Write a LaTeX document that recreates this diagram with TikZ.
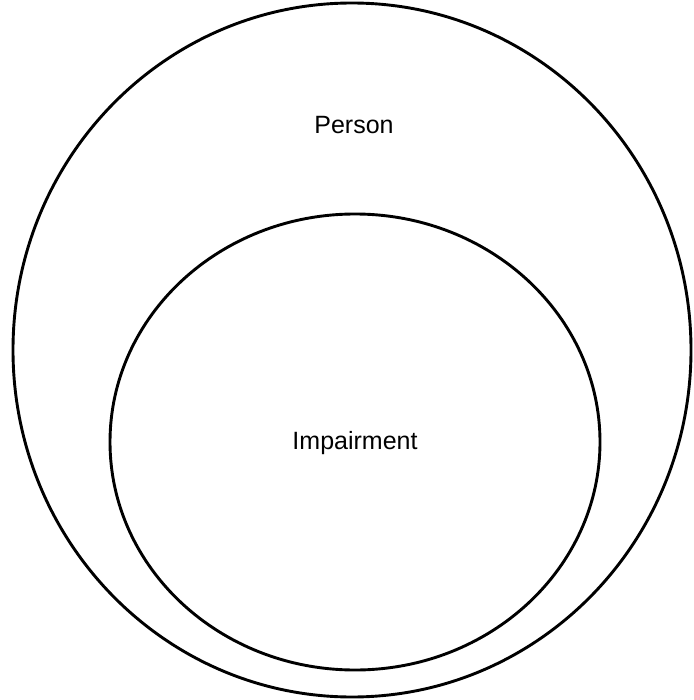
\documentclass[tikz,border=0pt]{standalone}
\usepackage{fontspec}
\setmainfont{Liberation Sans}
\begin{document}
\begin{tikzpicture}[x=1pt,y=-1pt,
  ring/.style={draw=black,line width=2.9pt},
  lbl/.style={font=\fontsize{25}{30}\selectfont,inner sep=0pt}]
\useasboundingbox (0,0) rectangle (693,700);
% outer set and the nested set inside it
\draw[ring] (352,350) ellipse [x radius=339, y radius=347];
\draw[ring] (355,442) ellipse [x radius=245, y radius=228];
\node[lbl] (person) at (354,125) {Person};
\node[lbl] (impairment) at (355,443) {Impairment};
\end{tikzpicture}
\end{document}
